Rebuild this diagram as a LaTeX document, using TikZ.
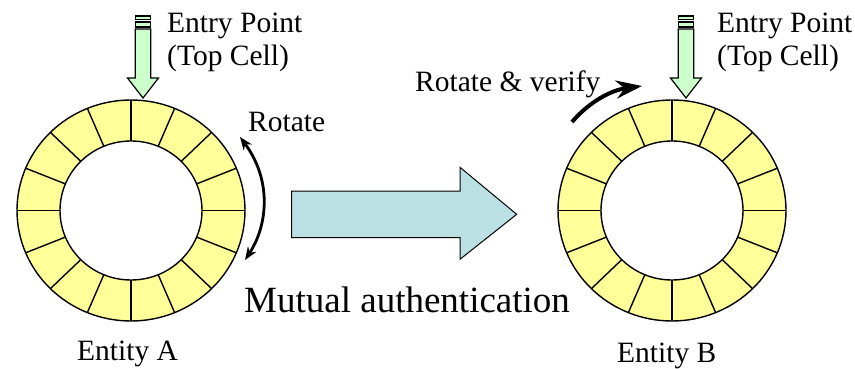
\documentclass[tikz,border=0pt]{standalone}
\usepackage{fontspec}
\setmainfont{Liberation Serif}
\usetikzlibrary{arrows.meta, positioning}
\definecolor{cellYellow}{RGB}{255,255,153}
\definecolor{entryGreen}{RGB}{204,255,204}
\definecolor{arrowTeal}{RGB}{187,224,227}

\begin{document}
\begin{tikzpicture}[x=1pt, y=-1pt]
	\tikzstyle{Label} = [inner sep=0, anchor=base west, font=\fontsize{29.5pt}{34pt}\selectfont]
	\tikzstyle{BigLabel} = [inner sep=0, anchor=base west, font=\fontsize{37pt}{44pt}\selectfont]
	\tikzstyle{Ring} = [draw=black, line width=1.4pt]
	\tikzstyle{EntryArrow} = [draw=black, line width=1.2pt, fill=entryGreen]
	\tikzstyle{arrow} = [line width=2.8pt, {Stealth[length=13pt,width=10pt]}-{Stealth[length=13pt,width=10pt]}]
	\tikzstyle{thickArrow} = [line width=4pt, -{Stealth[length=26pt,width=18pt]}]
	
	\useasboundingbox (0,0) rectangle (855,369);
	
	\coordinate (ringA) at (131,210.5);
	\coordinate (ringB) at (672,210.5);
	
	% cell rings
	\foreach \c in {ringA, ringB} {
		\begin{scope}[shift={(\c)}]
			\fill[cellYellow, even odd rule] (0,0) ellipse [x radius=114pt, y radius=110.5pt] (0,0) ellipse [x radius=71pt, y radius=69.5pt];
			\foreach \a in {0,22.5,...,337.5}
				\draw[Ring] ({71*cos(\a)},{69.5*sin(\a)}) -- ({114*cos(\a)},{110.5*sin(\a)});
			\draw[Ring] (0,0) ellipse [x radius=114pt, y radius=110.5pt];
			\draw[Ring] (0,0) ellipse [x radius=71pt, y radius=69.5pt];
		\end{scope}
	}
	
	% entry arrows
	\foreach \x in {143, 686} {
		\begin{scope}[shift={(\x,0)}]
			\draw[EntryArrow] (-7.8,16) rectangle (7.8,19.5);
			\draw[EntryArrow] (-7.8,22) rectangle (7.8,27);
			\draw[EntryArrow] (-7.8,29) -- (7.8,29) -- (7.8,78) -- (15.5,78) -- (0,98) -- (-15.5,78) -- (-7.8,78) -- cycle;
		\end{scope}
	}
	
	\node (entryA) [Label] at (167,33) {Entry Point};
	\node (topCellA) [Label] at (167,66) {(Top Cell)};
	\node (entryB) [Label] at (717,33) {Entry Point};
	\node (topCellB) [Label] at (717,66) {(Top Cell)};
	
	\node (rotate) [Label] at (248,131.7) {Rotate};
	\node (rotateVerify) [Label] at (415,91.7) {Rotate \& verify};
	\node (mutual) [BigLabel] at (244,312) {Mutual authentication};
	\node (entityA) [Label] at (77,360) {Entity A};
	\node (entityB) [Label] at (617,362) {Entity B};
	
	% big arrow
	\draw[fill=arrowTeal, line width=1pt] (291.7,191) -- (460,191) -- (460,167.3) -- (516.7,214.3) -- (460,259.3) -- (460,237.7) -- (291.7,237.7) -- cycle;
	
	\coordinate (rotTop) at (240,137);
	\coordinate (rotBottom) at (245,260);
	\draw[arrow] (rotTop) .. controls (272,180) and (268,225) .. (rotBottom);
	
	\coordinate (verifyStart) at (572,122);
	\coordinate (verifyEnd) at (642,86);
	\draw[thickArrow] (verifyStart) .. controls (590,101) and (612,90) .. (verifyEnd);
\end{tikzpicture}
\end{document}
